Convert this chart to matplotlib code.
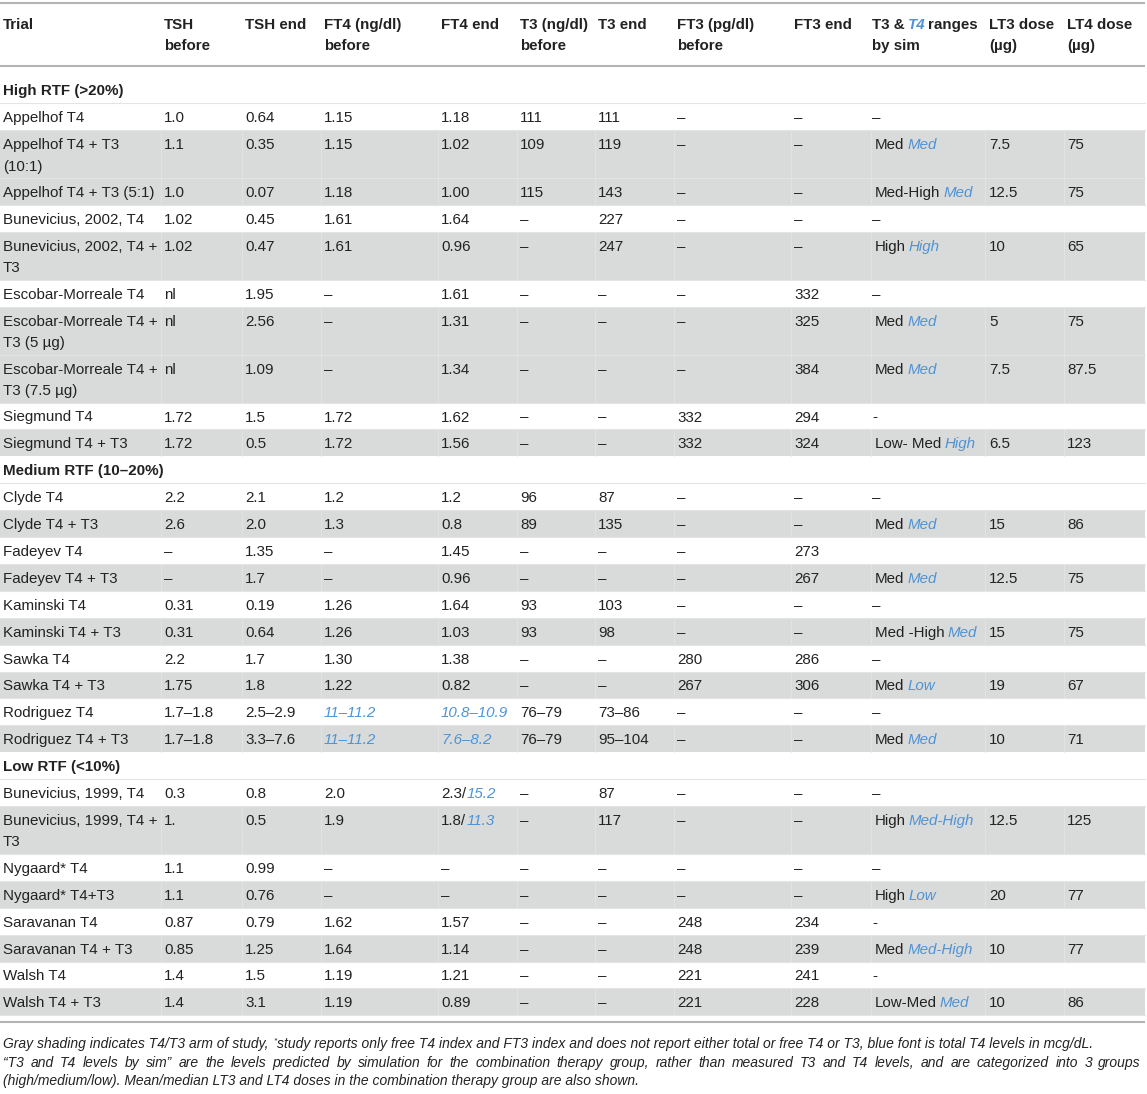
import matplotlib
matplotlib.use("Agg")
import matplotlib.pyplot as plt
from matplotlib.patches import Rectangle

plt.rcParams["font.family"] = ["Liberation Sans", "DejaVu Sans"]

# "|" switches between normal text and blue italic text
columns = ["Trial", "TSH\nbefore", "TSH end", "FT4 (ng/dl)\nbefore", "FT4 end",
           "T3 (ng/dl)\nbefore", "T3 end", "FT3 (pg/dl)\nbefore", "FT3 end",
           "T3 & |T4| ranges\nby sim", "LT3 dose\n(µg)", "LT4 dose\n(µg)"]

groups = ["High RTF (>20%)", "Medium RTF (10–20%)", "Low RTF (<10%)"]

high_rows = [
    ["Appelhof T4", "1.0", "0.64", "1.15", "1.18", "111", "111", "–", "–", "–", "", ""],
    ["Appelhof T4 + T3\n(10:1)", "1.1", "0.35", "1.15", "1.02", "109", "119", "–", "–", "Med |Med", "7.5", "75"],
    ["Appelhof T4 + T3 (5:1)", "1.0", "0.07", "1.18", "1.00", "115", "143", "–", "–", "Med-High |Med", "12.5", "75"],
    ["Bunevicius, 2002, T4", "1.02", "0.45", "1.61", "1.64", "–", "227", "–", "–", "–", "", ""],
    ["Bunevicius, 2002, T4 +\nT3", "1.02", "0.47", "1.61", "0.96", "–", "247", "–", "–", "High |High", "10", "65"],
    ["Escobar-Morreale T4", "nl", "1.95", "–", "1.61", "–", "–", "–", "332", "–", "", ""],
    ["Escobar-Morreale T4 +\nT3 (5 µg)", "nl", "2.56", "–", "1.31", "–", "–", "–", "325", "Med |Med", "5", "75"],
    ["Escobar-Morreale T4 +\nT3 (7.5 µg)", "nl", "1.09", "–", "1.34", "–", "–", "–", "384", "Med |Med", "7.5", "87.5"],
    ["Siegmund T4", "1.72", "1.5", "1.72", "1.62", "–", "–", "332", "294", "-", "", ""],
    ["Siegmund T4 + T3", "1.72", "0.5", "1.72", "1.56", "–", "–", "332", "324", "Low- Med |High", "6.5", "123"],
]
high_gray = [False, True, True, False, True, False, True, True, False, True]

medium_rows = [
    ["Clyde T4", "2.2", "2.1", "1.2", "1.2", "96", "87", "–", "–", "–", "", ""],
    ["Clyde T4 + T3", "2.6", "2.0", "1.3", "0.8", "89", "135", "–", "–", "Med |Med", "15", "86"],
    ["Fadeyev T4", "–", "1.35", "–", "1.45", "–", "–", "–", "273", "", "", ""],
    ["Fadeyev T4 + T3", "–", "1.7", "–", "0.96", "–", "–", "–", "267", "Med |Med", "12.5", "75"],
    ["Kaminski T4", "0.31", "0.19", "1.26", "1.64", "93", "103", "–", "–", "–", "", ""],
    ["Kaminski T4 + T3", "0.31", "0.64", "1.26", "1.03", "93", "98", "–", "–", "Med -High |Med", "15", "75"],
    ["Sawka T4", "2.2", "1.7", "1.30", "1.38", "–", "–", "280", "286", "–", "", ""],
    ["Sawka T4 + T3", "1.75", "1.8", "1.22", "0.82", "–", "–", "267", "306", "Med |Low", "19", "67"],
    ["Rodriguez T4", "1.7–1.8", "2.5–2.9", "|11–11.2", "|10.8–10.9", "76–79", "73–86", "–", "–", "–", "", ""],
    ["Rodriguez T4 + T3", "1.7–1.8", "3.3–7.6", "|11–11.2", "|7.6–8.2", "76–79", "95–104", "–", "–", "Med |Med", "10", "71"],
]
medium_gray = [False, True] * 5

low_rows = [
    ["Bunevicius, 1999, T4", "0.3", "0.8", "2.0", "2.3/|15.2", "–", "87", "–", "–", "–", "", ""],
    ["Bunevicius, 1999, T4 +\nT3", "1.", "0.5", "1.9", "1.8/|11.3", "–", "117", "–", "–", "High |Med-High", "12.5", "125"],
    ["Nygaard* T4", "1.1", "0.99", "–", "–", "–", "–", "–", "–", "–", "", ""],
    ["Nygaard* T4+T3", "1.1", "0.76", "–", "–", "–", "–", "–", "–", "High |Low", "20", "77"],
    ["Saravanan T4", "0.87", "0.79", "1.62", "1.57", "–", "–", "248", "234", "-", "", ""],
    ["Saravanan T4 + T3", "0.85", "1.25", "1.64", "1.14", "–", "–", "248", "239", "Med |Med-High", "10", "77"],
    ["Walsh T4", "1.4", "1.5", "1.19", "1.21", "–", "–", "221", "241", "-", "", ""],
    ["Walsh T4 + T3", "1.4", "3.1", "1.19", "0.89", "–", "–", "221", "228", "Low-Med |Med", "10", "86"],
]
low_gray = [False, True] * 4

footnote = [
    ["Gray shading indicates T4/T3 arm of study, ", "*",
     "study reports only free T4 index and FT3 index and does not report either total or free T4 or T3, blue font is total T4 levels in mcg/dL."],
    "\u201cT3 and T4 levels by sim\u201d are the levels predicted by simulation for the combination therapy group, rather than measured T3 and T4 levels, and are categorized into 3 groups",
    "(high/medium/low). Mean/median LT3 and LT4 doses in the combination therapy group are also shown.",
]

# layout (pixels)
W, H = 1147, 1094
seps = [0, 161, 242, 321, 438, 517, 595, 674, 791, 871, 985, 1064, 1145]
text_x = [3, 164, 245, 324, 441, 520, 598, 677, 794, 875, 989, 1067]
row_h, row_h2 = 26.9, 47.9
line_gap = 21.5
FS = 10.9
GRAY = "#d9dbda"
EDGE = "#e3e4e3"
RULE = "#b4b4b4"
BLUE = "#4f93d6"
TXT = "#222222"

fig = plt.figure(figsize=(W / 100, H / 100), dpi=100)
ax = fig.add_axes([0, 0, 1, 1])
ax.set_xlim(0, W)
ax.set_ylim(H, 0)
ax.axis("off")
renderer = fig.canvas.get_renderer()


def rich(x, y, s, size=FS, weight="normal"):
    space = 0.2 * size * 100 / 72
    for i, part in enumerate(s.split("|")):
        blue = i % 2 == 1
        x += (len(part) - len(part.lstrip(" "))) * space
        core = part.strip(" ")
        if core:
            t = ax.text(x, y, core, fontsize=size, va="baseline", ha="left",
                        color=BLUE if blue else TXT, weight=weight,
                        style="italic" if blue else "normal")
            x += t.get_window_extent(renderer).width
        x += (len(part) - len(part.rstrip(" "))) * space


def cell(x, ytop, s, weight="normal"):
    base = ytop + row_h / 2 + 0.36 * FS * 100 / 72
    for k, line in enumerate(s.split("\n")):
        rich(x, base + k * line_gap, line, weight=weight)


# header
ax.plot([0, 1145], [3, 3], color=RULE, lw=1.5, solid_capstyle="butt")
for x, name in zip(text_x, columns):
    cell(x if x != 875 else 872, 23 - row_h / 2 + 0.5, name, weight="bold")
ax.plot([0, 1145], [66, 66], color=RULE, lw=1.5, solid_capstyle="butt")

y = 76.5
for label, rows, gray in [(groups[0], high_rows, high_gray),
                          (groups[1], medium_rows, medium_gray),
                          (groups[2], low_rows, low_gray)]:
    cell(3, y, label, weight="bold")
    y += row_h
    for r, g in zip(rows, gray):
        h = row_h2 if any("\n" in c for c in r) else row_h
        if g:
            ax.add_patch(Rectangle((0, y), 1145, h, facecolor=GRAY, edgecolor="none"))
            for sx in seps[1:-1]:
                ax.plot([sx, sx], [y, y + h], color=EDGE, lw=0.6)
        ax.plot([0, 1145], [y, y], color=EDGE, lw=0.8)
        for x, c in zip(text_x, r):
            if c in ("–", "-") and x == 875:
                x = 872
            cell(x, y, c)
        y += h
ax.plot([0, 1145], [y, y], color=EDGE, lw=0.8)
ax.plot([0, 1145], [1022, 1022], color=RULE, lw=1.5, solid_capstyle="butt")

# footnote
FN = 10.0
fy = [1048, 1067, 1085]
x = 3
for i, part in enumerate(footnote[0]):
    if i == 1:
        t = ax.text(x, fy[0] - 6, part, fontsize=FN * 0.6, style="italic", color=TXT, va="baseline")
        x += t.get_window_extent(renderer).width
    else:
        t = ax.text(x, fy[0], part, fontsize=FN, style="italic", color=TXT, va="baseline")
        x += t.get_window_extent(renderer).width + (1 if i == 0 else 0)

# second line is justified to the full width
words = footnote[1].split(" ")
widths = []
for wd in words:
    t = ax.text(0, fy[1], wd, fontsize=FN, style="italic", color=TXT, va="baseline")
    widths.append(t.get_window_extent(renderer).width)
    t.remove()
gap = (1141 - 3 - sum(widths)) / (len(words) - 1)
x = 3
for wd, w in zip(words, widths):
    ax.text(x, fy[1], wd, fontsize=FN, style="italic", color=TXT, va="baseline")
    x += w + gap

ax.text(3, fy[2], footnote[2], fontsize=FN, style="italic", color=TXT, va="baseline")

fig.savefig("out.png", dpi=100)
